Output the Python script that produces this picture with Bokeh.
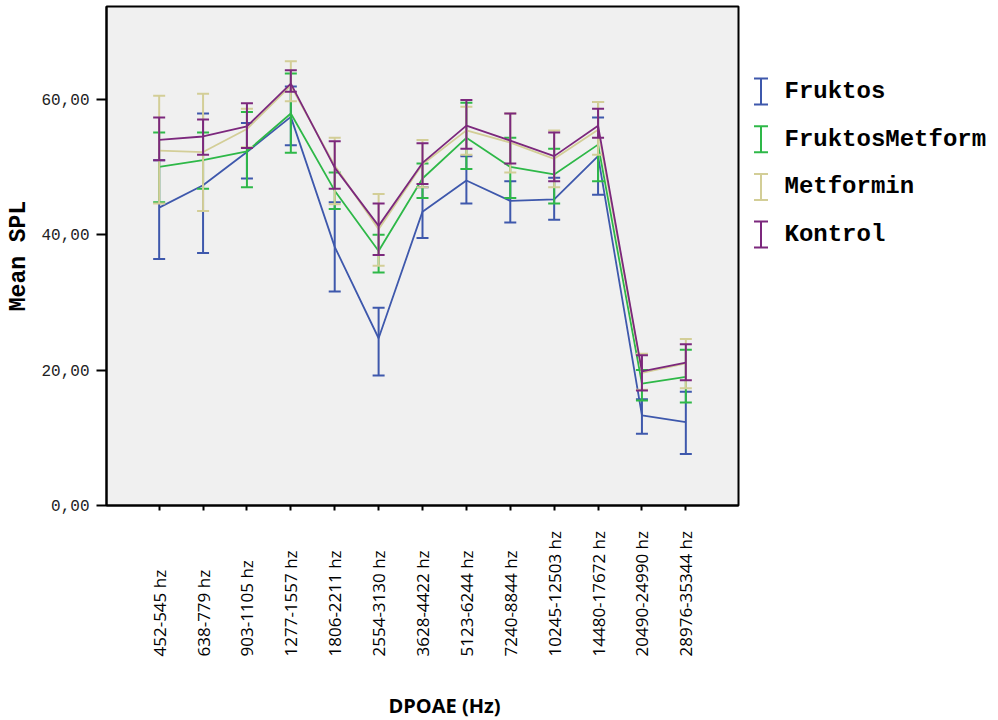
import numpy as np
from bokeh.plotting import figure
from bokeh.models import Range1d, FixedTicker, ColumnDataSource
from bokeh.layouts import gridplot
from bokeh.embed import file_html
from bokeh.resources import INLINE
from bokeh.core.properties import value

categories = ["452-545 hz", "638-779 hz", "903-1105 hz", "1277-1557 hz", "1806-2211 hz",
              "2554-3130 hz", "3628-4422 hz", "5123-6244 hz", "7240-8844 hz",
              "10245-12503 hz", "14480-17672 hz", "20490-24990 hz", "28976-35344 hz"]

series_names = ["Fruktos", "FruktosMetform", "Metformin", "Kontrol"]

fruktos_mean = [44.0, 47.3, 52.2, 57.4, 38.2, 24.7, 43.4, 48.0, 45.0, 45.2, 51.6, 13.3, 12.3]
fruktos_low = [36.4, 37.3, 48.3, 53.2, 31.6, 19.2, 39.5, 44.6, 41.8, 42.2, 45.9, 10.6, 7.6]
fruktos_high = [51.0, 57.9, 56.5, 61.9, 44.8, 29.2, 47.0, 51.6, 47.9, 48.4, 57.3, 15.7, 16.8]

fm_mean = [50.0, 51.0, 52.3, 57.9, 46.5, 37.6, 48.3, 54.3, 50.0, 48.9, 53.3, 18.0, 19.0]
fm_low = [44.8, 46.8, 47.0, 52.1, 43.8, 34.4, 45.4, 49.7, 45.4, 44.6, 47.9, 15.5, 15.2]
fm_high = [55.1, 55.1, 58.1, 63.8, 49.2, 40.0, 50.5, 59.5, 54.3, 52.7, 59.6, 20.0, 23.0]

met_mean = [52.4, 52.2, 55.6, 62.0, 50.2, 40.8, 50.4, 55.4, 53.6, 51.2, 55.5, 19.6, 21.0]
met_low = [44.6, 43.5, 52.9, 59.7, 44.5, 35.4, 47.0, 51.8, 49.2, 47.0, 51.8, 17.1, 17.3]
met_high = [60.5, 60.8, 58.6, 65.6, 54.3, 46.0, 54.0, 58.9, 57.9, 55.4, 59.6, 22.4, 24.6]

kon_mean = [54.0, 54.5, 56.0, 62.3, 49.9, 41.3, 50.6, 56.1, 53.9, 51.6, 56.1, 19.8, 21.1]
kon_low = [51.0, 51.8, 52.8, 61.1, 46.8, 37.0, 47.5, 52.7, 50.5, 47.9, 54.3, 17.0, 18.5]
kon_high = [57.3, 57.0, 59.4, 64.3, 53.8, 44.6, 53.5, 59.9, 57.9, 55.1, 58.6, 22.2, 23.8]

y_ticks = [0, 20, 40, 60]
y_tick_labels = ["0,00", "20,00", "40,00", "60,00"]

x_title = "DPOAE (Hz)"
y_title = "Mean SPL"

colors = ["#3E58AC", "#2EB848", "#D3CE97", "#7C287D"]

means = [fruktos_mean, fm_mean, met_mean, kon_mean]
lows = [fruktos_low, fm_low, met_low, kon_low]
highs = [fruktos_high, fm_high, met_high, kon_high]

xs = list(range(len(categories)))
n = len(categories)

# ---------------- main chart ----------------
p = figure(width=745, height=520, x_range=Range1d(-1.2, 13.2), y_range=Range1d(0, 73.7),
           output_backend="svg", toolbar_location=None,
           min_border_left=106, min_border_right=7, min_border_top=6, min_border_bottom=15)
p.background_fill_color = "#F0F0F0"
p.border_fill_color = "white"
p.outline_line_color = "black"
p.outline_line_width = 2
p.grid.visible = False

for name, m, lo, hi, c in zip(series_names, means, lows, highs, colors):
    src = ColumnDataSource(dict(x=xs, mean=m, lower=lo, upper=hi))
    p.line("x", "mean", source=src, line_color=c, line_width=1.8)
    p.segment(x0="x", y0="lower", x1="x", y1="upper", source=src, line_color=c, line_width=2)
    p.scatter("x", "upper", source=src, marker="dash", size=12, line_color=c, line_width=2)
    p.scatter("x", "lower", source=src, marker="dash", size=12, line_color=c, line_width=2)

# x axis (ticks only; the rotated labels are drawn in the panel below)
p.xaxis.ticker = FixedTicker(ticks=xs)
p.xaxis.major_label_overrides = {i: "" for i in xs}
p.xaxis.major_label_text_font_size = "0px"
p.xaxis.major_label_standoff = 0
p.xaxis.major_tick_out = 5
p.xaxis.major_tick_in = 0
p.xaxis.minor_tick_out = 0
p.xaxis.minor_tick_in = 0
p.xaxis.axis_line_width = 2
p.xaxis.axis_line_color = "black"
p.xaxis.major_tick_line_color = "black"
p.xaxis.major_tick_line_width = 2

# y axis
p.yaxis.ticker = FixedTicker(ticks=y_ticks)
p.yaxis.major_label_overrides = dict(zip(y_ticks, y_tick_labels))
p.yaxis.major_tick_out = 10
p.yaxis.major_tick_in = 0
p.yaxis.minor_tick_out = 0
p.yaxis.minor_tick_in = 0
p.yaxis.axis_line_width = 2
p.yaxis.axis_line_color = "black"
p.yaxis.major_tick_line_color = "black"
p.yaxis.major_tick_line_width = 2
p.yaxis.major_label_standoff = 7
p.yaxis.major_label_text_font = "Liberation Mono"
p.yaxis.major_label_text_font_size = "16px"
p.yaxis.major_label_text_color = "#222222"
p.yaxis.axis_label = y_title
p.yaxis.axis_label_text_font = "Liberation Mono"
p.yaxis.axis_label_text_font_style = "bold"
p.yaxis.axis_label_text_font_size = "23px"
p.yaxis.axis_label_text_color = "black"
p.yaxis.axis_label_standoff = 6

# ---------------- category labels + x title (below the chart) ----------------
lab = figure(width=745, height=200, x_range=p.x_range, y_range=Range1d(720, 520),
             output_backend="svg", toolbar_location=None,
             min_border_left=106, min_border_right=7, min_border_top=0, min_border_bottom=0,
             x_axis_location=None, y_axis_location=None)
lab.grid.visible = False
lab.outline_line_color = None
lab.background_fill_color = "white"
lab.border_fill_color = "white"
lab.text(x=xs, y=[656] * n, text=categories, angle=np.pi / 2,
         text_align="left", text_baseline="middle",
         text_font=value("Open Sans"), text_font_size="17px", text_color="black")
lab.text(x=[6.5], y=[705], text=[x_title], text_align="center", text_baseline="middle",
         text_font=value("Open Sans"), text_font_style="bold", text_font_size="20px",
         text_color="black")

# ---------------- legend panel ----------------
lg = figure(width=253, height=520, x_range=Range1d(745, 998), y_range=Range1d(505, 6),
            output_backend="svg", toolbar_location=None,
            min_border_left=0, min_border_right=0, min_border_top=6, min_border_bottom=15,
            x_axis_location=None, y_axis_location=None)
lg.grid.visible = False
lg.outline_line_color = None
lg.background_fill_color = "white"
lg.border_fill_color = "white"

k = len(series_names)
yc = [91 + 47.7 * i for i in range(k)]
icon_x = [760.5] * k
lg.segment(x0=icon_x, y0=[y - 13 for y in yc], x1=icon_x, y1=[y + 13 for y in yc],
           line_color=colors, line_width=2)
lg.segment(x0=[x - 7 for x in icon_x], y0=[y - 13 for y in yc], x1=[x + 7 for x in icon_x],
           y1=[y - 13 for y in yc], line_color=colors, line_width=2)
lg.segment(x0=[x - 7 for x in icon_x], y0=[y + 13 for y in yc], x1=[x + 7 for x in icon_x],
           y1=[y + 13 for y in yc], line_color=colors, line_width=2)
lg.text(x=[784] * k, y=yc, text=series_names,
        text_font=value("Liberation Mono"), text_font_style="bold", text_font_size="24px",
        text_baseline="middle", text_align="left", text_color="black")

grid = gridplot([[p, lg], [lab, None]], toolbar_location=None)
open("out.html", "w").write(file_html(grid, INLINE))
